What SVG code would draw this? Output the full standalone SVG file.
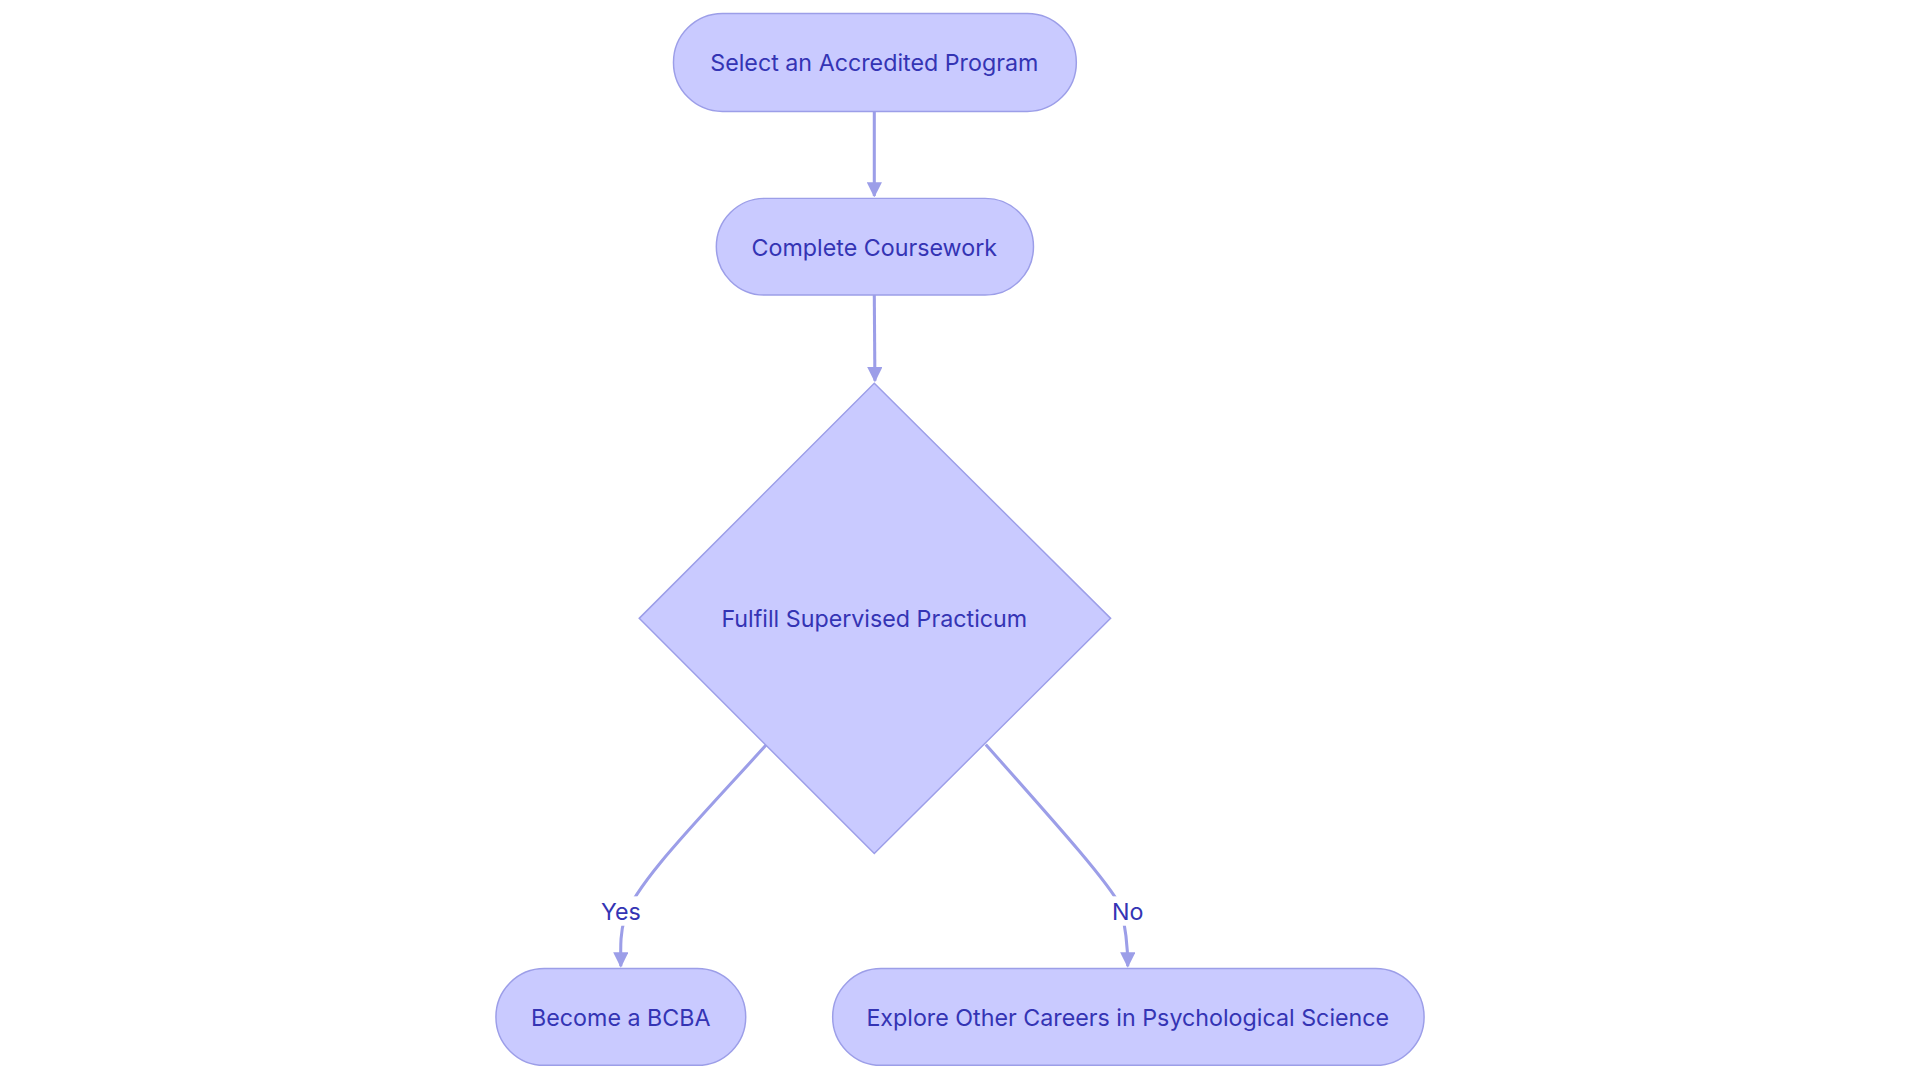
<svg xmlns="http://www.w3.org/2000/svg" width="1920" height="1080" viewBox="0 0 1920 1080">
<style>
.n{fill:#c9caff;stroke:#9c9ee8;stroke-width:1.2}
.t{font-family:Inter,"Noto Sans",sans-serif;font-size:19px;fill:#3434b4;text-anchor:middle;dominant-baseline:central}
.e{fill:none;stroke:#9c9ee8;stroke-width:2.5}
.lb{fill:#ffffff}
</style>
<defs><marker id="a" viewBox="0 0 10 10" refX="9" refY="5" markerWidth="5" markerHeight="5" orient="auto"><path d="M0,0L10,5L0,10z" fill="#9c9ee8"/></marker></defs>
<rect width="1920" height="1080" fill="#fff"/>
<g transform="scale(1.2245)">
<g id="connectors">
<path class="e" d="M714,91L714,160" marker-end="url(#a)"/>
<path class="e" d="M714,241L714.5,311" marker-end="url(#a)"/>
<path class="e" d="M626,608C570,670 520,720 510,750C506,765 507,775 507,789" marker-end="url(#a)"/>
<path class="e" d="M805,608C860,670 905,720 915,740C920,760 921,775 921,789" marker-end="url(#a)"/>
<rect class="lb" x="489" y="732" width="36" height="24"/>
<text class="t" x="507" y="744">Yes</text>
<rect class="lb" x="906" y="732" width="30" height="24"/>
<text class="t" x="921" y="744">No</text>
</g>
<g id="n1"><rect class="n" x="550" y="11" width="329" height="80" rx="40"/><text class="t" x="714" y="51">Select an Accredited Program</text></g>
<g id="n2"><rect class="n" x="585" y="162" width="259" height="79" rx="39.5"/><text class="t" x="714" y="202">Complete Coursework</text></g>
<g id="n3"><path class="n" d="M714,313L907,505L714,697L522,505Z"/><text class="t" x="714" y="505">Fulfill Supervised Practicum</text></g>
<g id="n4"><rect class="n" x="405" y="791" width="204" height="79" rx="39.5"/><text class="t" x="507" y="831">Become a BCBA</text></g>
<g id="n5"><rect class="n" x="680" y="791" width="483" height="79" rx="39.5"/><text class="t" x="921" y="831">Explore Other Careers in Psychological Science</text></g>
</g>
</svg>
